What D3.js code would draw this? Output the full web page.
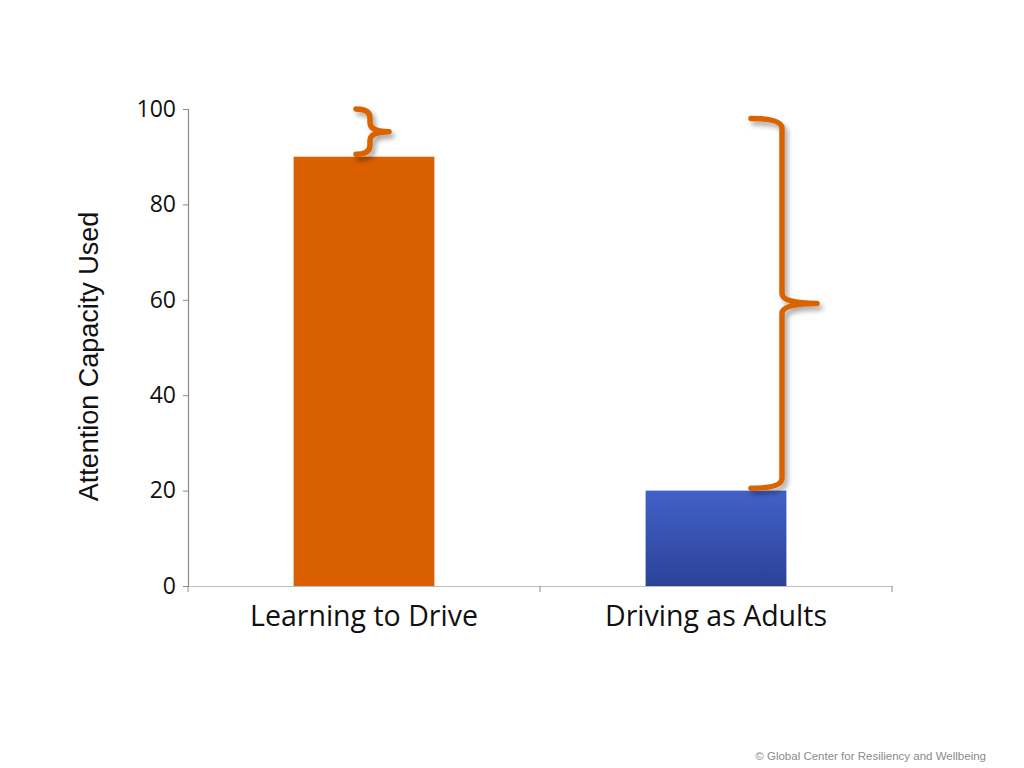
<!DOCTYPE html>
<html>
<head>
<meta charset="utf-8">
<script src="https://cdn.jsdelivr.net/npm/d3@7"></script>
<style>
  html, body { margin: 0; padding: 0; background: #fff; }
  svg { display: block; }
</style>
</head>
<body>
<svg id="chart" width="1024" height="768"></svg>
<script>
// ---- data ----
const categories = ["Learning to Drive", "Driving as Adults"];
const values = [90, 20];
const barColors = ["#D95F00", "#3A55B8"];
const yTicks = [0, 20, 40, 60, 80, 100];
const yLabel = "Attention Capacity Used";
// braces: [category index, low value, high value]
const braceCats = [0, 1];
const braceLow = [90.5, 20.5];
const braceHigh = [100, 98];
const footer = "\u00A9 Global Center for Resiliency and Wellbeing";

const svg = d3.select("#chart");
const margin = {left: 188, right: 132, top: 109, bottom: 182};
const W = 1024, H = 768;

const x = d3.scaleBand().domain(categories).range([margin.left, W - margin.right]).paddingInner(0).paddingOuter(0);
const y = d3.scaleLinear().domain([0, 100]).range([H - margin.bottom, margin.top]);

const defs = svg.append("defs");
const grad = defs.append("linearGradient").attr("id", "blueGrad").attr("x1", 0).attr("x2", 0).attr("y1", 0).attr("y2", 1);
grad.append("stop").attr("offset", "0%").attr("stop-color", "#4262C8");
grad.append("stop").attr("offset", "100%").attr("stop-color", "#2C4199");
const filt = defs.append("filter").attr("id", "shadow").attr("x", "-50%").attr("y", "-50%").attr("width", "200%").attr("height", "200%");
filt.append("feDropShadow").attr("dx", 3).attr("dy", 4).attr("stdDeviation", 2.5).attr("flood-color", "#000").attr("flood-opacity", 0.35);

// bars
const barW = x.bandwidth() * 0.4;
svg.append("g").selectAll("rect").data(categories).join("rect")
  .attr("x", d => x(d) + (x.bandwidth() - barW) / 2)
  .attr("y", (d, i) => y(values[i]))
  .attr("width", barW)
  .attr("height", (d, i) => y(0) - y(values[i]))
  .attr("fill", (d, i) => i === 1 ? "url(#blueGrad)" : barColors[i]);

// y axis
const yAxis = svg.append("g").attr("transform", `translate(${margin.left},0)`)
  .call(d3.axisLeft(y).tickValues(yTicks).tickSize(5).tickPadding(7));
yAxis.select(".domain").attr("stroke", "#8a8a8a").attr("stroke-width", 1.2);
yAxis.selectAll(".tick line").attr("stroke", "#8a8a8a");
yAxis.selectAll(".tick text").attr("font-family", "'Open Sans', 'Noto Sans', sans-serif").attr("font-size", 23).attr("fill", "#111");

// x axis
const xAxis = svg.append("g").attr("transform", `translate(0,${y(0)})`)
  .call(d3.axisBottom(x).tickSize(0).tickPadding(20));
xAxis.select(".domain").attr("stroke", "#bdbdbd").attr("stroke-width", 1.2);
xAxis.selectAll(".tick text").attr("font-family", "'Open Sans', 'Noto Sans', sans-serif").attr("font-size", 28.5).attr("fill", "#111");
// boundary ticks
const bounds = [x.range()[0], x(categories[1]), x.range()[1]];
xAxis.selectAll("line.bt").data(bounds).join("line").attr("class", "bt")
  .attr("x1", d => d).attr("x2", d => d).attr("y1", 0).attr("y2", 6)
  .attr("stroke", "#8a8a8a");

// y label
svg.append("text")
  .attr("transform", `translate(98,${(y(0) + y(100)) / 2 + 9}) rotate(-90)`)
  .attr("text-anchor", "middle")
  .attr("font-family", "'Liberation Sans', Arial, sans-serif")
  .attr("font-size", 27)
  .attr("fill", "#111")
  .text(yLabel);

// braces
function bracePath(x0, xs, xt, yTop, yBot) {
  const ym = (yTop + yBot) / 2;
  const r = Math.min(10, (yBot - yTop) / 5);
  return `M${x0},${yTop} Q${xs},${yTop} ${xs},${yTop + r}` +
    ` L${xs},${ym - r} Q${xs},${ym} ${xt},${ym}` +
    ` Q${xs},${ym} ${xs},${ym + r}` +
    ` L${xs},${yBot - r} Q${xs},${yBot} ${x0},${yBot}`;
}
const braceGeom = [
  {x0: -8, xs: 6, xt: 25},
  {x0: 35, xs: 66, xt: 101}
];
svg.append("g").selectAll("path").data(braceCats).join("path")
  .attr("d", (c, i) => {
    const cx = x(categories[c]) + x.bandwidth() / 2;
    const g = braceGeom[i];
    return bracePath(cx + g.x0, cx + g.xs, cx + g.xt, y(braceHigh[i]), y(braceLow[i]));
  })
  .attr("fill", "none")
  .attr("stroke", "#DA6300")
  .attr("stroke-width", 5.5)
  .attr("stroke-linecap", "round")
  .attr("stroke-linejoin", "round")
  .attr("filter", "url(#shadow)");

// footer
svg.append("text")
  .attr("x", 986).attr("y", 760)
  .attr("text-anchor", "end")
  .attr("font-family", "'Liberation Sans', Arial, sans-serif")
  .attr("font-size", 11.5)
  .attr("fill", "#8a8a8a")
  .text(footer);
</script>
</body>
</html>
